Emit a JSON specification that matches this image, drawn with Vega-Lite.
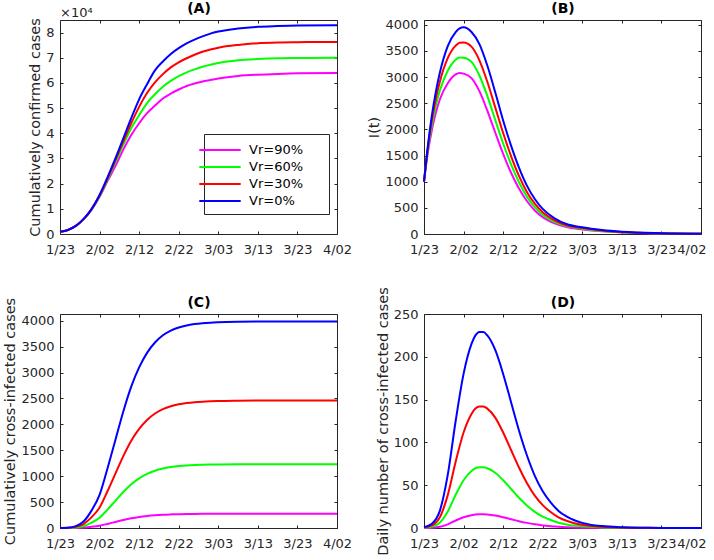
{
"$schema": "https://vega.github.io/schema/vega-lite/v6.json",
"padding": {"left": 2, "top": 0, "right": 0, "bottom": 0},
"background": "white",
"datasets": {
"A": [
{"d":0,"v90":900,"v60":900,"v30":900,"v0":900},
{"d":2,"v90":1600,"v60":1600,"v30":1600,"v0":1600},
{"d":4,"v90":3200,"v60":3200,"v30":3200,"v0":3200},
{"d":6,"v90":5900,"v60":5900,"v30":6000,"v0":6000},
{"d":8,"v90":9700,"v60":9800,"v30":9900,"v0":10000},
{"d":10,"v90":14800,"v60":15000,"v30":15300,"v0":15500},
{"d":12,"v90":21000,"v60":21500,"v30":22000,"v0":22500},
{"d":14,"v90":27000,"v60":28500,"v30":29300,"v0":30000},
{"d":16,"v90":33500,"v60":35500,"v30":36800,"v0":38000},
{"d":18,"v90":39300,"v60":42000,"v30":44000,"v0":46000},
{"d":20,"v90":44000,"v60":47200,"v30":50500,"v0":53500},
{"d":22,"v90":48000,"v60":52000,"v30":56000,"v0":59500},
{"d":24,"v90":51000,"v60":55500,"v30":60200,"v0":65000},
{"d":26,"v90":53800,"v60":58500,"v30":63500,"v0":68500},
{"d":28,"v90":55800,"v60":60800,"v30":66200,"v0":71500},
{"d":30,"v90":57400,"v60":62700,"v30":68200,"v0":73800},
{"d":32,"v90":58800,"v60":64200,"v30":69800,"v0":75700},
{"d":34,"v90":59800,"v60":65400,"v30":71200,"v0":77200},
{"d":36,"v90":60600,"v60":66400,"v30":72400,"v0":78500},
{"d":38,"v90":61200,"v60":67200,"v30":73300,"v0":79600},
{"d":40,"v90":61800,"v60":67900,"v30":74000,"v0":80400},
{"d":45,"v90":62800,"v60":69000,"v30":75100,"v0":81600},
{"d":50,"v90":63300,"v60":69500,"v30":75800,"v0":82300},
{"d":55,"v90":63600,"v60":69800,"v30":76100,"v0":82600},
{"d":60,"v90":63800,"v60":69900,"v30":76200,"v0":82800},
{"d":70,"v90":63900,"v60":70000,"v30":76300,"v0":82900}
],
"B": [
{"d":0,"v90":1000,"v60":1000,"v30":1000,"v0":1000},
{"d":1,"v90":1570,"v60":1620,"v30":1660,"v0":1700},
{"d":2,"v90":1990,"v60":2090,"v30":2180,"v0":2270},
{"d":3,"v90":2320,"v60":2460,"v30":2590,"v0":2720},
{"d":4,"v90":2570,"v60":2740,"v30":2910,"v0":3080},
{"d":6,"v90":2880,"v60":3120,"v30":3360,"v0":3590},
{"d":8,"v90":3050,"v60":3330,"v30":3600,"v0":3860},
{"d":9,"v90":3077,"v60":3375,"v30":3655,"v0":3930},
{"d":10,"v90":3065,"v60":3370,"v30":3660,"v0":3950},
{"d":12,"v90":2980,"v60":3290,"v30":3580,"v0":3860},
{"d":14,"v90":2730,"v60":3030,"v30":3320,"v0":3630},
{"d":16,"v90":2360,"v60":2640,"v30":2910,"v0":3220},
{"d":18,"v90":1940,"v60":2180,"v30":2420,"v0":2710},
{"d":20,"v90":1530,"v60":1730,"v30":1930,"v0":2170},
{"d":22,"v90":1170,"v60":1330,"v30":1490,"v0":1690},
{"d":24,"v90":870,"v60":990,"v30":1110,"v0":1270},
{"d":26,"v90":630,"v60":715,"v30":805,"v0":925},
{"d":28,"v90":450,"v60":515,"v30":580,"v0":670},
{"d":30,"v90":322,"v60":368,"v30":415,"v0":480},
{"d":33,"v90":204,"v60":232,"v30":262,"v0":300},
{"d":36,"v90":132,"v60":150,"v30":168,"v0":190},
{"d":40,"v90":88,"v60":100,"v30":113,"v0":128},
{"d":45,"v90":51,"v60":58,"v30":66,"v0":75},
{"d":50,"v90":29,"v60":33,"v30":37,"v0":42},
{"d":60,"v90":10,"v60":12,"v30":13,"v0":15},
{"d":70,"v90":4,"v60":4,"v30":5,"v0":6}
],
"C": [
{"d":0,"v90":0,"v60":0,"v30":0,"v0":0},
{"d":2,"v90":0.4,"v60":2,"v30":4,"v0":6},
{"d":4,"v90":2.4,"v60":11,"v30":22,"v0":35},
{"d":6,"v90":9,"v60":40,"v30":80,"v0":130},
{"d":8,"v90":23,"v60":105,"v30":210,"v0":340},
{"d":10,"v90":44,"v60":198,"v30":395,"v0":640},
{"d":12,"v90":79,"v60":355,"v30":710,"v0":1150},
{"d":14,"v90":117,"v60":525,"v30":1049,"v0":1700},
{"d":16,"v90":155,"v60":695,"v30":1388,"v0":2250},
{"d":18,"v90":188,"v60":844,"v30":1684,"v0":2730},
{"d":20,"v90":214,"v60":958,"v30":1913,"v0":3100},
{"d":22,"v90":233,"v60":1044,"v30":2085,"v0":3380},
{"d":24,"v90":247,"v60":1106,"v30":2209,"v0":3580},
{"d":26,"v90":257,"v60":1149,"v30":2295,"v0":3720},
{"d":28,"v90":263,"v60":1177,"v30":2351,"v0":3810},
{"d":30,"v90":267,"v60":1196,"v30":2388,"v0":3870},
{"d":32,"v90":270,"v60":1208,"v30":2412,"v0":3910},
{"d":34,"v90":272,"v60":1216,"v30":2428,"v0":3935},
{"d":36,"v90":273,"v60":1221,"v30":2438,"v0":3952},
{"d":38,"v90":273.5,"v60":1225,"v30":2445,"v0":3963},
{"d":40,"v90":274,"v60":1227,"v30":2450,"v0":3970},
{"d":45,"v90":274.6,"v60":1230,"v30":2456,"v0":3980},
{"d":50,"v90":275,"v60":1231,"v30":2459,"v0":3985},
{"d":60,"v90":275,"v60":1232,"v30":2459,"v0":3986},
{"d":70,"v90":275,"v60":1232,"v30":2459,"v0":3986}
],
"D": [
{"d":0,"v90":0.07,"v60":0.3,"v30":0.6,"v0":1},
{"d":2,"v90":0.35,"v60":1.6,"v30":3,"v0":5},
{"d":4,"v90":1.4,"v60":6.2,"v30":12.4,"v0":20},
{"d":6,"v90":4.3,"v60":19.2,"v30":38.4,"v0":62},
{"d":8,"v90":8.8,"v60":38.8,"v30":77.5,"v0":125},
{"d":10,"v90":12.6,"v60":55.8,"v30":111.6,"v0":180},
{"d":12,"v90":15,"v60":66.7,"v30":133.3,"v0":215},
{"d":13,"v90":15.8,"v60":69.8,"v30":139.5,"v0":225},
{"d":14,"v90":16,"v60":71,"v30":142,"v0":229},
{"d":15,"v90":16,"v60":71,"v30":142,"v0":229},
{"d":16,"v90":15.8,"v60":69.8,"v30":139.5,"v0":225},
{"d":18,"v90":14.6,"v60":64.5,"v30":129,"v0":208},
{"d":20,"v90":12.6,"v60":55.8,"v30":111.6,"v0":180},
{"d":22,"v90":10.3,"v60":45.6,"v30":91.1,"v0":147},
{"d":24,"v90":8,"v60":35.3,"v30":70.7,"v0":114},
{"d":26,"v90":6,"v60":26.4,"v30":52.7,"v0":85},
{"d":28,"v90":4.3,"v60":18.9,"v30":37.8,"v0":61},
{"d":30,"v90":3,"v60":13.3,"v30":26.7,"v0":43},
{"d":32,"v90":2.1,"v60":9.3,"v30":18.6,"v0":30},
{"d":34,"v90":1.4,"v60":6.2,"v30":12.4,"v0":20},
{"d":36,"v90":0.95,"v60":4.2,"v30":8.4,"v0":13.5},
{"d":38,"v90":0.63,"v60":2.8,"v30":5.6,"v0":9},
{"d":40,"v90":0.42,"v60":1.9,"v30":3.7,"v0":6},
{"d":45,"v90":0.15,"v60":0.7,"v30":1.4,"v0":2.2},
{"d":50,"v90":0.06,"v60":0.25,"v30":0.5,"v0":0.8},
{"d":55,"v90":0.02,"v60":0.1,"v30":0.2,"v0":0.3},
{"d":60,"v90":0,"v60":0,"v30":0.1,"v0":0.1},
{"d":70,"v90":0,"v60":0,"v30":0,"v0":0}
]
},
"columns": 2,
"spacing": {"row": 29, "column": 13},
"resolve": {"scale": {"color": "independent"}, "legend": {"color": "independent"}},
"concat": [
{
"data": {"name": "A"},
"transform": [{"fold": ["v90","v60","v30","v0"], "as": ["s","v"]}],
"width": 277, "height": 214,
"layer": [
{"mark": {"type": "line", "strokeWidth": 2, "interpolate": "monotone"},
 "encoding": {
  "x": {"field": "d", "type": "quantitative", "scale": {"domain": [0,70], "nice": false}, "axis": {"values": [0,10,20,30,40,50,60,70], "labelExpr": "['1/23','2/02','2/12','2/22','3/03','3/13','3/23','4/02'][round(datum.value/10)]", "title": null}},
  "y": {"field": "v", "type": "quantitative", "scale": {"domain": [0,85000], "nice": false}, "axis": {"values": [0,10000,20000,30000,40000,50000,60000,70000,80000], "labelExpr": "datum.value/10000", "title": "Cumulatively confirmed cases"}},
  "color": {"field": "s", "type": "nominal", "sort": null, "scale": {"domain": ["v90","v60","v30","v0"], "range": ["#FF00FF","#00FF00","#FF0000","#0000FF"]},
   "legend": {"orient": "none", "legendX": 144, "legendY": 114, "title": null, "symbolType": "M-2.3,0H2.3", "symbolSize": 324, "symbolStrokeWidth": 2, "labelFontSize": 13, "labelColor": "#000000", "labelOffset": 19, "strokeColor": "#262626", "fillColor": "white", "padding": 6, "rowPadding": -1, "labelExpr": "{'v90':'Vr=90%\u2800\u2800','v60':'Vr=60%\u2800\u2800','v30':'Vr=30%\u2800\u2800','v0':'Vr=0%\u2800\u2800'}[datum.label]"}}
 }},
{"mark": {"type": "line", "opacity": 0},
 "encoding": {
  "x": {"field": "d", "type": "quantitative", "axis": {"orient": "top", "values": [0,10,20,30,40,50,60,70], "labels": false, "title": "(A)", "titleFontWeight": "bold", "titleFontSize": 14, "titleColor": "#000000", "titlePadding": 5, "minExtent": 0, "maxExtent": 0}},
  "y": {"field": "v", "type": "quantitative", "axis": {"orient": "right", "values": [0,10000,20000,30000,40000,50000,60000,70000,80000], "labels": false, "title": null, "minExtent": 0, "maxExtent": 0}}
 }},
{"data": {"values": [{}]},
 "mark": {"type": "text", "text": "×10⁴", "align": "left", "baseline": "alphabetic", "dy": -3, "fontSize": 13, "color": "#262626"},
 "encoding": {"x": {"datum": 0, "type": "quantitative", "axis": null}, "y": {"datum": 85000, "type": "quantitative", "axis": null}}}
],
"resolve": {"axis": {"x": "independent", "y": "independent"}}
},
{
"data": {"name": "B"},
"transform": [{"fold": ["v90","v60","v30","v0"], "as": ["s","v"]}],
"width": 277, "height": 214,
"layer": [
{"mark": {"type": "line", "strokeWidth": 2, "interpolate": "monotone"},
 "encoding": {
  "x": {"field": "d", "type": "quantitative", "scale": {"domain": [0,70], "nice": false}, "axis": {"values": [0,10,20,30,40,50,60,70], "labelExpr": "['1/23','2/02','2/12','2/22','3/03','3/13','3/23','4/02'][round(datum.value/10)]", "title": null, "labelAlign": {"condition": {"test": "datum.value === 70", "value": "right"}, "value": "center"}, "labelOffset": {"condition": {"test": "datum.value === 70", "value": 5}, "value": 0}}},
  "y": {"field": "v", "type": "quantitative", "scale": {"domain": [0,4090], "nice": false}, "axis": {"values": [0,500,1000,1500,2000,2500,3000,3500,4000], "format": "d", "title": "I(t)"}},
  "color": {"field": "s", "type": "nominal", "sort": null, "scale": {"domain": ["v90","v60","v30","v0"], "range": ["#FF00FF","#00FF00","#FF0000","#0000FF"]}, "legend": null}
 }},
{"mark": {"type": "line", "opacity": 0},
 "encoding": {
  "x": {"field": "d", "type": "quantitative", "axis": {"orient": "top", "values": [0,10,20,30,40,50,60,70], "labels": false, "title": "(B)", "titleFontWeight": "bold", "titleFontSize": 14, "titleColor": "#000000", "titlePadding": 5, "minExtent": 0, "maxExtent": 0}},
  "y": {"field": "v", "type": "quantitative", "axis": {"orient": "right", "values": [0,500,1000,1500,2000,2500,3000,3500,4000], "labels": false, "title": null, "minExtent": 0, "maxExtent": 0}}
 }}
],
"resolve": {"axis": {"x": "independent", "y": "independent"}}
},
{
"data": {"name": "C"},
"transform": [{"fold": ["v90","v60","v30","v0"], "as": ["s","v"]}],
"width": 277, "height": 214,
"layer": [
{"mark": {"type": "line", "strokeWidth": 2, "interpolate": "monotone"},
 "encoding": {
  "x": {"field": "d", "type": "quantitative", "scale": {"domain": [0,70], "nice": false}, "axis": {"values": [0,10,20,30,40,50,60,70], "labelExpr": "['1/23','2/02','2/12','2/22','3/03','3/13','3/23','4/02'][round(datum.value/10)]", "title": null}},
  "y": {"field": "v", "type": "quantitative", "scale": {"domain": [0,4130], "nice": false}, "axis": {"values": [0,500,1000,1500,2000,2500,3000,3500,4000], "format": "d", "title": "Cumulatively cross-infected cases"}},
  "color": {"field": "s", "type": "nominal", "sort": null, "scale": {"domain": ["v90","v60","v30","v0"], "range": ["#FF00FF","#00FF00","#FF0000","#0000FF"]}, "legend": null}
 }},
{"mark": {"type": "line", "opacity": 0},
 "encoding": {
  "x": {"field": "d", "type": "quantitative", "axis": {"orient": "top", "values": [0,10,20,30,40,50,60,70], "labels": false, "title": "(C)", "titleFontWeight": "bold", "titleFontSize": 14, "titleColor": "#000000", "titlePadding": 5, "minExtent": 0, "maxExtent": 0}},
  "y": {"field": "v", "type": "quantitative", "axis": {"orient": "right", "values": [0,500,1000,1500,2000,2500,3000,3500,4000], "labels": false, "title": null, "minExtent": 0, "maxExtent": 0}}
 }}
],
"resolve": {"axis": {"x": "independent", "y": "independent"}}
},
{
"data": {"name": "D"},
"transform": [{"fold": ["v90","v60","v30","v0"], "as": ["s","v"]}],
"width": 277, "height": 214,
"layer": [
{"mark": {"type": "line", "strokeWidth": 2, "interpolate": "monotone"},
 "encoding": {
  "x": {"field": "d", "type": "quantitative", "scale": {"domain": [0,70], "nice": false}, "axis": {"values": [0,10,20,30,40,50,60,70], "labelExpr": "['1/23','2/02','2/12','2/22','3/03','3/13','3/23','4/02'][round(datum.value/10)]", "title": null, "labelAlign": {"condition": {"test": "datum.value === 70", "value": "right"}, "value": "center"}, "labelOffset": {"condition": {"test": "datum.value === 70", "value": 5}, "value": 0}}},
  "y": {"field": "v", "type": "quantitative", "scale": {"domain": [0,250], "nice": false}, "axis": {"values": [0,50,100,150,200,250], "format": "d", "title": "Daily number of cross-infected cases"}},
  "color": {"field": "s", "type": "nominal", "sort": null, "scale": {"domain": ["v90","v60","v30","v0"], "range": ["#FF00FF","#00FF00","#FF0000","#0000FF"]}, "legend": null}
 }},
{"mark": {"type": "line", "opacity": 0},
 "encoding": {
  "x": {"field": "d", "type": "quantitative", "axis": {"orient": "top", "values": [0,10,20,30,40,50,60,70], "labels": false, "title": "(D)", "titleFontWeight": "bold", "titleFontSize": 14, "titleColor": "#000000", "titlePadding": 5, "minExtent": 0, "maxExtent": 0}},
  "y": {"field": "v", "type": "quantitative", "axis": {"orient": "right", "values": [0,50,100,150,200,250], "labels": false, "title": null, "minExtent": 0, "maxExtent": 0}}
 }}
],
"resolve": {"axis": {"x": "independent", "y": "independent"}}
}
],
"config": {
 "font": "DejaVu Sans",
 "view": {"stroke": "#262626", "strokeWidth": 1},
 "axis": {"grid": false, "domain": false, "tickSize": -3, "tickColor": "#262626", "tickWidth": 1, "labelPadding": 9, "labelFontSize": 13, "labelColor": "#262626", "labelFont": "DejaVu Sans", "titleFont": "DejaVu Sans", "titleFontSize": 14.5, "titleFontWeight": "normal", "titleColor": "#262626", "titlePadding": 3, "labelFlush": false, "labelOverlap": false, "minExtent": 0},
 "axisX": {"labelPadding": 12},
 "legend": {"labelFont": "DejaVu Sans"}
}
}
